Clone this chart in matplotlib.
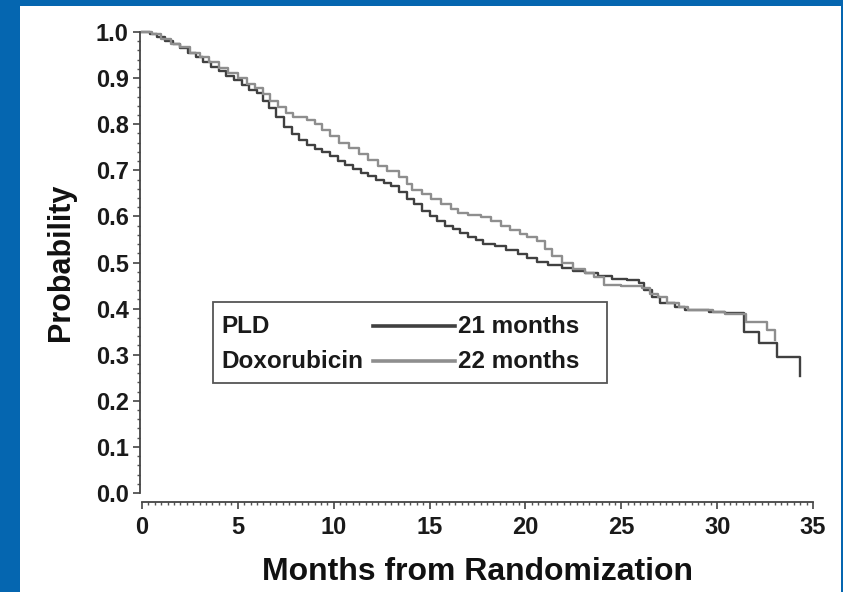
import matplotlib
matplotlib.use('Agg')
import matplotlib.pyplot as plt
from matplotlib.patches import Rectangle
from matplotlib.lines import Line2D
from matplotlib.ticker import MultipleLocator

plt.rcParams['font.family'] = ['Liberation Sans', 'DejaVu Sans']
plt.rcParams['font.weight'] = 'bold'

# Kaplan-Meier curves (months, probability)
pld_t = [0, 0.4, 0.8, 1.2, 1.6, 2.0, 2.4, 2.8, 3.2, 3.6, 4.0, 4.4, 4.8, 5.2, 5.6,
         6.0, 6.3, 6.6, 7.0, 7.4, 7.8, 8.2, 8.6, 9.0, 9.4, 9.8, 10.2, 10.6, 11.0,
         11.4, 11.8, 12.2, 12.6, 13.0, 13.4, 13.8, 14.2, 14.6, 15.0, 15.4, 15.8,
         16.2, 16.6, 17.0, 17.4, 17.8, 18.4, 19.0, 19.6, 20.1, 20.6, 21.2, 21.9,
         22.5, 23.1, 23.8, 24.5, 25.3, 25.9, 26.2, 26.6, 27.0, 27.8, 28.3, 29.6,
         30.4, 31.4, 32.2, 33.1, 34.3]
pld_s = [1.0, 0.995, 0.99, 0.98, 0.975, 0.965, 0.955, 0.945, 0.935, 0.925, 0.915,
         0.905, 0.895, 0.885, 0.875, 0.868, 0.85, 0.835, 0.815, 0.795, 0.778,
         0.765, 0.755, 0.747, 0.740, 0.730, 0.720, 0.712, 0.703, 0.695, 0.688,
         0.680, 0.673, 0.665, 0.652, 0.638, 0.627, 0.612, 0.600, 0.590, 0.580,
         0.572, 0.565, 0.555, 0.548, 0.540, 0.535, 0.528, 0.518, 0.510, 0.502,
         0.495, 0.488, 0.482, 0.477, 0.470, 0.465, 0.462, 0.455, 0.440, 0.425,
         0.412, 0.404, 0.397, 0.393, 0.390, 0.349, 0.325, 0.295, 0.254]

dox_t = [0, 0.5, 1.0, 1.5, 2.0, 2.5, 3.0, 3.5, 4.0, 4.5, 5.0, 5.5, 5.9, 6.3, 6.7,
         7.1, 7.5, 7.9, 8.6, 9.0, 9.4, 9.8, 10.3, 10.8, 11.3, 11.8, 12.3, 12.8,
         13.4, 13.8, 14.1, 14.6, 15.1, 15.6, 16.1, 16.5, 17.0, 17.7, 18.2, 18.7,
         19.2, 19.7, 20.1, 20.6, 21.0, 21.4, 21.9, 22.5, 23.1, 23.6, 24.1, 25.0,
         25.6, 26.1, 26.5, 26.9, 27.4, 28.0, 28.5, 29.8, 30.4, 31.5, 32.6, 33.0]
dox_s = [1.0, 0.995, 0.985, 0.975, 0.968, 0.955, 0.945, 0.935, 0.922, 0.912,
         0.900, 0.888, 0.878, 0.865, 0.850, 0.837, 0.825, 0.815, 0.809, 0.800,
         0.788, 0.775, 0.760, 0.748, 0.735, 0.722, 0.710, 0.698, 0.685, 0.670,
         0.657, 0.648, 0.638, 0.627, 0.615, 0.607, 0.602, 0.599, 0.590, 0.580,
         0.570, 0.562, 0.555, 0.546, 0.530, 0.515, 0.499, 0.485, 0.477, 0.468,
         0.451, 0.450, 0.448, 0.445, 0.432, 0.425, 0.412, 0.404, 0.397, 0.393,
         0.388, 0.371, 0.354, 0.332]

series = [('PLD', '21 months', pld_t, pld_s, '#404040'),
          ('Doxorubicin', '22 months', dox_t, dox_s, '#8e8e8e')]

x_ticks = [0, 5, 10, 15, 20, 25, 30, 35]
y_ticks = [0.0, 0.1, 0.2, 0.3, 0.4, 0.5, 0.6, 0.7, 0.8, 0.9, 1.0]

fig = plt.figure(figsize=(8.43, 5.92), dpi=100)
fig.patch.set_facecolor('#0566b0')
bg = Rectangle((20 / 843, 0), 821 / 843, 586 / 592, transform=fig.transFigure,
               facecolor='white', edgecolor='none', zorder=-10)
fig.add_artist(bg)

ax = fig.add_axes([142 / 843, 99 / 592, 671 / 843, 461 / 592])
ax.set_facecolor('none')
ax.set_zorder(5)

for name, med, t, s, col in series:
    ax.step(t, s, where='post', color=col, lw=1.7, clip_on=False)

ax.set_xlim(0, 35)
ax.set_ylim(0, 1.0)
ax.set_xticks(x_ticks)
ax.set_yticks(y_ticks)
ax.set_yticklabels([f'{v:.1f}' for v in y_ticks])
ax.xaxis.set_minor_locator(MultipleLocator(1 / 3))
ax.yaxis.set_minor_locator(MultipleLocator(0.02))

for side in ['top', 'right']:
    ax.spines[side].set_visible(False)
ax.spines['left'].set_position(('outward', 1.5))
ax.spines['bottom'].set_position(('outward', 6.5))
ax.spines['left'].set_bounds(0, 1.0)
ax.spines['bottom'].set_bounds(0, 35)
for side in ['left', 'bottom']:
    ax.spines[side].set_color('#444444')
    ax.spines[side].set_linewidth(1.3)

ax.tick_params(which='major', length=5, width=1.2, color='#444444',
               labelsize=17, labelcolor='#1a1a1a')
ax.tick_params(which='minor', length=2.5, width=1.0, color='#555555')
ax.tick_params(axis='y', which='major', pad=3)
ax.tick_params(axis='x', which='major', pad=5)

ax.set_xlabel('Months from Randomization', fontsize=23, fontweight='bold',
              color='#111111', labelpad=13)
ax.set_ylabel('Probability', fontsize=22, fontweight='bold',
              color='#111111', labelpad=14)

# legend box with medians
ax.add_patch(Rectangle((0.106, 0.239), 0.587, 0.175, transform=ax.transAxes,
                       facecolor='white', edgecolor='#555555', lw=1.3,
                       zorder=3))
rows = [0.362, 0.286]
for (name, med, t, s, col), yy in zip(series, rows):
    ax.text(0.119, yy, name, transform=ax.transAxes, fontsize=17.5,
            fontweight='bold', va='center', ha='left', color='#1a1a1a',
            zorder=4)
    ax.add_line(Line2D([0.345, 0.466], [yy, yy], transform=ax.transAxes,
                       color=col, lw=2.6, zorder=4))
    ax.text(0.471, yy, med, transform=ax.transAxes, fontsize=17.5,
            fontweight='bold', va='center', ha='left', color='#1a1a1a',
            zorder=4)

fig.savefig('out.png', dpi=100, facecolor=fig.get_facecolor())
